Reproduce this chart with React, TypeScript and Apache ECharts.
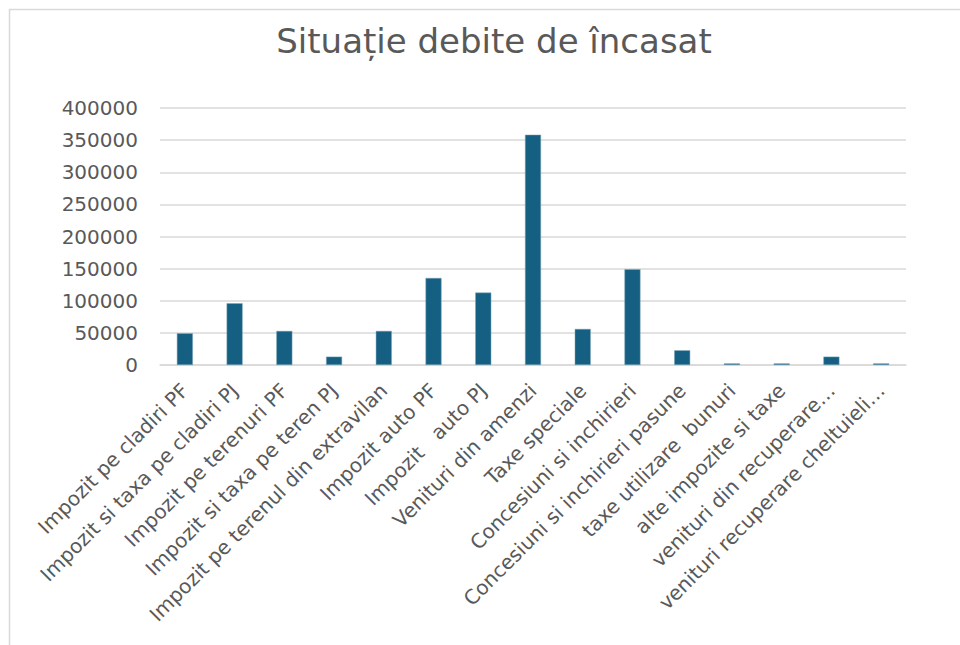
import React, { useEffect, useRef } from "react";
import * as echarts from "echarts";

const categories = [
  "Impozit pe cladiri PF",
  "Impozit si taxa pe cladiri PJ",
  "Impozit pe terenuri PF",
  "Impozit si taxa pe teren PJ",
  "Impozit pe terenul din extravilan",
  "Impozit auto PF",
  "Impozit   auto PJ",
  "Venituri din amenzi",
  "Taxe speciale",
  "Concesiuni si inchirieri",
  "Concesiuni si inchirieri pasune",
  "taxe utilizare  bunuri",
  "alte impozite si taxe",
  "venituri din recuperare…",
  "venituri recuperare cheltuieli…",
];

const values = [49400, 96100, 53000, 13000, 53000, 135500, 112700, 358400, 56100, 149100, 22900, 2500, 2500, 13000, 2500];

const yTicks = [0, 50000, 100000, 150000, 200000, 250000, 300000, 350000, 400000];

export default function App() {
  const ref = useRef<HTMLDivElement>(null);
  useEffect(() => {
    if (!ref.current) return;
    const chart = echarts.init(ref.current, null, { renderer: "svg" });
    const font = "'DejaVu Sans', 'Noto Sans', sans-serif";
    chart.setOption({
      animation: false,
      backgroundColor: "#ffffff",
      title: {
        text: "Situație debite de încasat",
        left: 489,
        top: 19,
        textAlign: "center",
        textStyle: { fontFamily: font, fontSize: 34, fontWeight: "normal", color: "#595959" },
      },
      graphic: [
        {
          type: "rect",
          shape: { x: 9.5, y: 9.5, width: 1100, height: 1100 },
          style: { fill: "none", stroke: "#D9D9D9", lineWidth: 1.5 },
          silent: true,
        },
      ],
      grid: { left: 160, right: 54, top: 108, bottom: 280, containLabel: false },
      xAxis: {
        type: "category",
        data: categories,
        axisLine: { lineStyle: { color: "#D9D9D9", width: 1.5 } },
        axisTick: { show: false },
        axisLabel: {
          interval: 0,
          rotate: 45,
          margin: 22,
          color: "#595959",
          fontFamily: font,
          fontSize: 20,
        },
      },
      yAxis: {
        type: "value",
        min: yTicks[0],
        max: yTicks[yTicks.length - 1],
        interval: yTicks[1] - yTicks[0],
        axisLine: { show: false },
        axisTick: { show: false },
        splitLine: { lineStyle: { color: "#D9D9D9", width: 1.5 } },
        axisLabel: {
          color: "#595959",
          fontFamily: font,
          fontSize: 20,
          margin: 22,
          formatter: (v: number) => String(v),
        },
      },
      series: [
        {
          type: "bar",
          data: values,
          barWidth: 16,
          itemStyle: { color: "#156082", borderColor: "#7FA6BB", borderWidth: 0.5 },
        },
      ],
    });
    return () => chart.dispose();
  }, []);
  return <div ref={ref} style={{ position: "fixed", left: 0, top: 0, width: 960, height: 645 }} />;
}
